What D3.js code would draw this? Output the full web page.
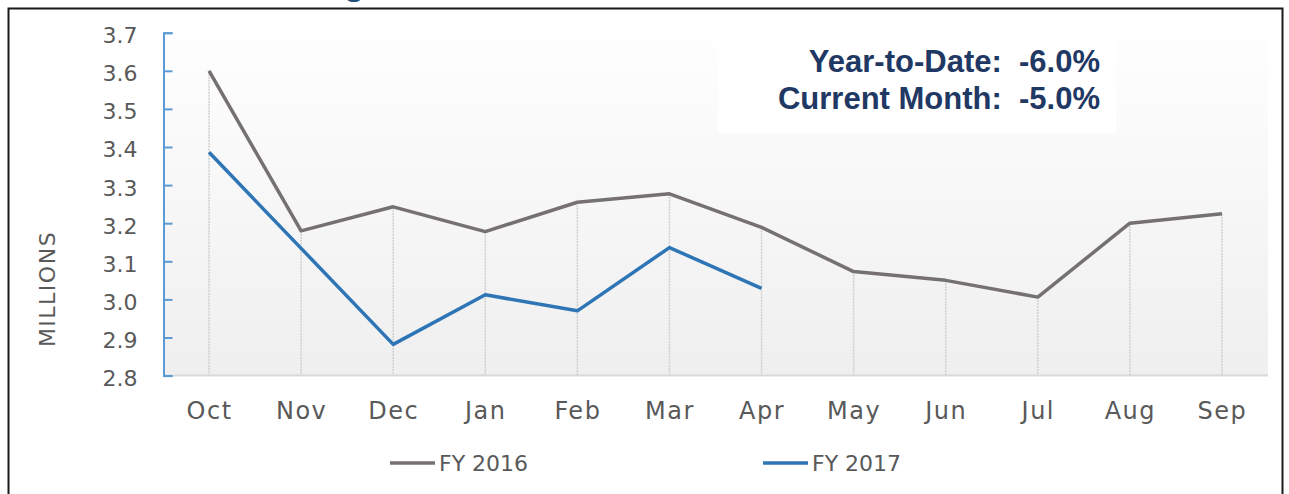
<!DOCTYPE html>
<html>
<head>
<meta charset="utf-8">
<script src="https://cdn.jsdelivr.net/npm/d3@7"></script>
<style>
  html, body { margin: 0; padding: 0; background: #fff; }
  svg { display: block; }
</style>
</head>
<body>
<div id="chart"></div>
<script>
// data
const months = ["Oct", "Nov", "Dec", "Jan", "Feb", "Mar", "Apr", "May", "Jun", "Jul", "Aug", "Sep"];
const fy2016 = [3.60, 3.18, 3.243, 3.178, 3.255, 3.277, 3.189, 3.073, 3.050, 3.006, 3.200, 3.225];
const fy2017 = [3.386, 3.134, 2.882, 3.012, 2.970, 3.136, 3.029];
const yTicks = [2.8, 2.9, 3.0, 3.1, 3.2, 3.3, 3.4, 3.5, 3.6, 3.7];
const seriesNames = ["FY 2016", "FY 2017"];
const summaryLines = ["Year-to-Date:  -6.0%", "Current Month:  -5.0%"];

const width = 1289;
const height = 494;
const plot = { left: 163, right: 1268, top: 18, bottom: 375.6 };
const colors = ["#767171", "#2e75b6"];
const labelFont = "'DejaVu Sans', sans-serif";

const svg = d3.select("#chart")
  .append("svg")
  .attr("width", width)
  .attr("height", height);

const defs = svg.append("defs");
const grad = defs.append("linearGradient")
  .attr("id", "plotBg")
  .attr("x1", 0).attr("y1", 0)
  .attr("x2", 0).attr("y2", 1);
grad.append("stop").attr("offset", "0%").attr("stop-color", "#ffffff");
grad.append("stop").attr("offset", "100%").attr("stop-color", "#efefef");

// cut-off title letter above the frame (only its tail shows)
svg.append("text")
  .attr("x", 354)
  .attr("y", -6)
  .attr("text-anchor", "middle")
  .style("font-family", "'Liberation Sans', Arial, sans-serif")
  .style("font-size", "40px")
  .attr("fill", "#1f4e79")
  .text("g");

// outer frame
svg.append("rect")
  .attr("x", 8.5)
  .attr("y", 8.5)
  .attr("width", 1274)
  .attr("height", 520)
  .attr("fill", "none")
  .attr("stroke", "#1a1a1a")
  .attr("stroke-width", 2);

const x = d3.scalePoint()
  .domain(months)
  .range([plot.left, plot.right])
  .padding(0.5);

const y = d3.scaleLinear()
  .domain([2.8, 3.7])
  .range([plot.bottom, 32.7]);

// plot area background
svg.append("rect")
  .attr("x", plot.left)
  .attr("y", plot.top)
  .attr("width", plot.right - plot.left)
  .attr("height", plot.bottom - plot.top)
  .attr("fill", "url(#plotBg)");

// white box behind the summary text
svg.append("rect")
  .attr("x", 718)
  .attr("y", 26)
  .attr("width", 398)
  .attr("height", 107)
  .attr("fill", "#ffffff");

// drop lines from the top point of each month
svg.append("g")
  .selectAll("line")
  .data(months)
  .join("line")
  .attr("x1", d => x(d))
  .attr("x2", d => x(d))
  .attr("y1", (d, i) => y(d3.max([fy2016[i], fy2017[i]].filter(v => v != null))))
  .attr("y2", plot.bottom)
  .attr("stroke", "#cfcfcf")
  .attr("stroke-width", 1.5)
  .attr("stroke-dasharray", "2,1");

// x axis
const xAxis = svg.append("g")
  .attr("transform", `translate(0,${plot.bottom})`)
  .call(d3.axisBottom(x).tickSize(0).tickPadding(26));
xAxis.select(".domain").remove();
svg.append("line")
  .attr("x1", plot.left)
  .attr("x2", plot.right)
  .attr("y1", plot.bottom)
  .attr("y2", plot.bottom)
  .attr("stroke", "#d9d9d9")
  .attr("stroke-width", 2);
xAxis.selectAll("text")
  .style("font-family", labelFont)
  .style("font-size", "24px")
  .style("letter-spacing", "1.5px")
  .attr("fill", "#595959");

// y axis (bracket style, ticks pointing inward)
const yAxis = svg.append("g")
  .attr("transform", `translate(${plot.left + 0.5},0)`)
  .call(d3.axisLeft(y)
    .tickValues(yTicks)
    .tickSize(-9)
    .tickPadding(26)
    .tickFormat(d3.format(".1f")));
yAxis.select(".domain")
  .attr("stroke", "#5b9bd5")
  .attr("stroke-width", 2);
yAxis.selectAll(".tick line")
  .attr("stroke", "#5b9bd5")
  .attr("stroke-width", 2);
yAxis.selectAll("text")
  .style("font-family", labelFont)
  .style("font-size", "22px")
  .attr("dy", "0.45em")
  .attr("fill", "#595959");

svg.append("text")
  .attr("transform", "translate(55,289) rotate(-90)")
  .attr("text-anchor", "middle")
  .style("font-family", labelFont)
  .style("font-size", "22px")
  .style("letter-spacing", "1.5px")
  .attr("fill", "#595959")
  .text("MILLIONS");

// series lines
const line = d3.line()
  .x((d, i) => x(months[i]))
  .y(d => y(d));

[fy2016, fy2017].forEach((values, i) => {
  svg.append("path")
    .datum(values)
    .attr("fill", "none")
    .attr("stroke", colors[i])
    .attr("stroke-width", 3.5)
    .attr("stroke-linejoin", "round")
    .attr("d", line);
});

// summary text
svg.append("g")
  .selectAll("text")
  .data(summaryLines)
  .join("text")
  .attr("x", 1100)
  .attr("y", (d, i) => 72 + i * 37)
  .attr("text-anchor", "end")
  .attr("xml:space", "preserve")
  .style("white-space", "pre")
  .style("font-family", "'Liberation Sans', Arial, sans-serif")
  .style("font-weight", "bold")
  .style("font-size", "31px")
  .attr("fill", "#1f3864")
  .text(d => d);

// legend
const legendX = [390, 763];
const legend = svg.append("g")
  .selectAll("g")
  .data(seriesNames)
  .join("g")
  .attr("transform", (d, i) => `translate(${legendX[i]},463)`);
legend.append("line")
  .attr("x1", 0)
  .attr("x2", 45)
  .attr("stroke", (d, i) => colors[i])
  .attr("stroke-width", 3.5);
legend.append("text")
  .attr("x", 49)
  .attr("dy", "0.36em")
  .style("font-family", labelFont)
  .style("font-size", "22px")
  .attr("fill", "#595959")
  .text(d => d);
</script>
</body>
</html>
